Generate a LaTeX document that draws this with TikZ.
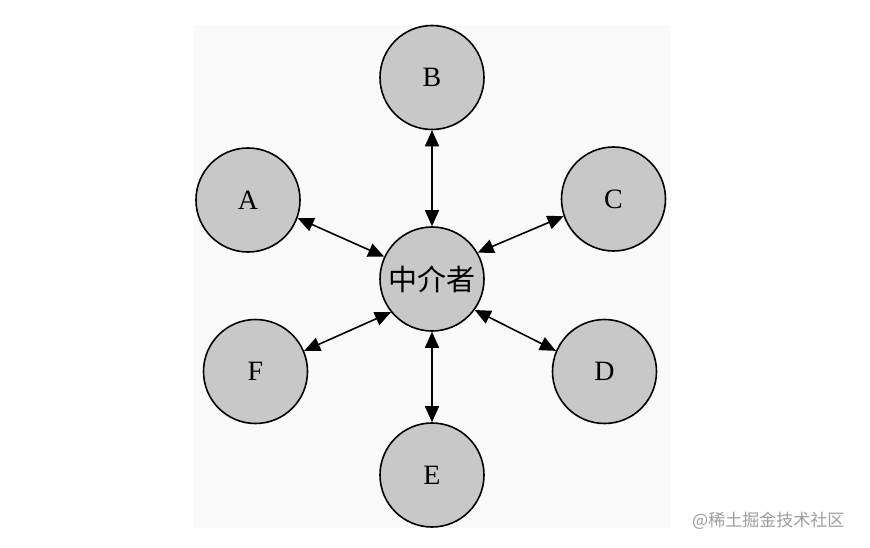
\documentclass[tikz,border=0pt]{standalone}
\usepackage{fontspec}
\setmainfont{Liberation Serif}
\newfontfamily\cjk{Noto Sans CJK SC}
\usetikzlibrary{arrows.meta}
\definecolor{nodegray}{HTML}{C8C8C8}
\definecolor{bgpale}{HTML}{FAFAFA}
\definecolor{wmgray}{HTML}{9E9E9E}
\tikzset{
  party/.style={circle, draw=black, line width=1.6pt, fill=nodegray, minimum size=104pt, inner sep=0pt, font=\fontsize{28}{30}\selectfont},
  link/.style={line width=1.6pt, {Triangle[length=16pt,width=14pt]}-{Triangle[length=16pt,width=14pt]}}
}
\begin{document}
\begin{tikzpicture}[x=1pt,y=-1pt]
\useasboundingbox (0,0) rectangle (870,548);
\fill[white] (0,0) rectangle (870,548);
\fill[bgpale] (193,25) rectangle (671,528);
\node[party] (M) at (432,279) {\cjk\fontsize{29}{31}\selectfont 中介者};
\node[party] (B) at (432,77.5) {B};
\node[party] (A) at (248,200) {A};
\node[party] (C) at (613.5,199) {C};
\node[party] (F) at (255.5,371.5) {F};
\node[party] (D) at (604.5,371.5) {D};
\node[party] (E) at (432,475) {E};
\draw[link] (M.north) -- (B.south);
\draw[link] (M.155) -- (A.340);
\draw[link] (M.30) -- (C.199);
\draw[link] (M.219) -- (F.23);
\draw[link] (M.324) -- (D.157);
\draw[link] (M.south) -- (E.north);
\node[anchor=west, text=wmgray, font=\cjk\fontsize{17}{19}\selectfont, inner sep=0pt] (wm) at (692,521) {@稀土掘金技术社区};
\end{tikzpicture}
\end{document}
